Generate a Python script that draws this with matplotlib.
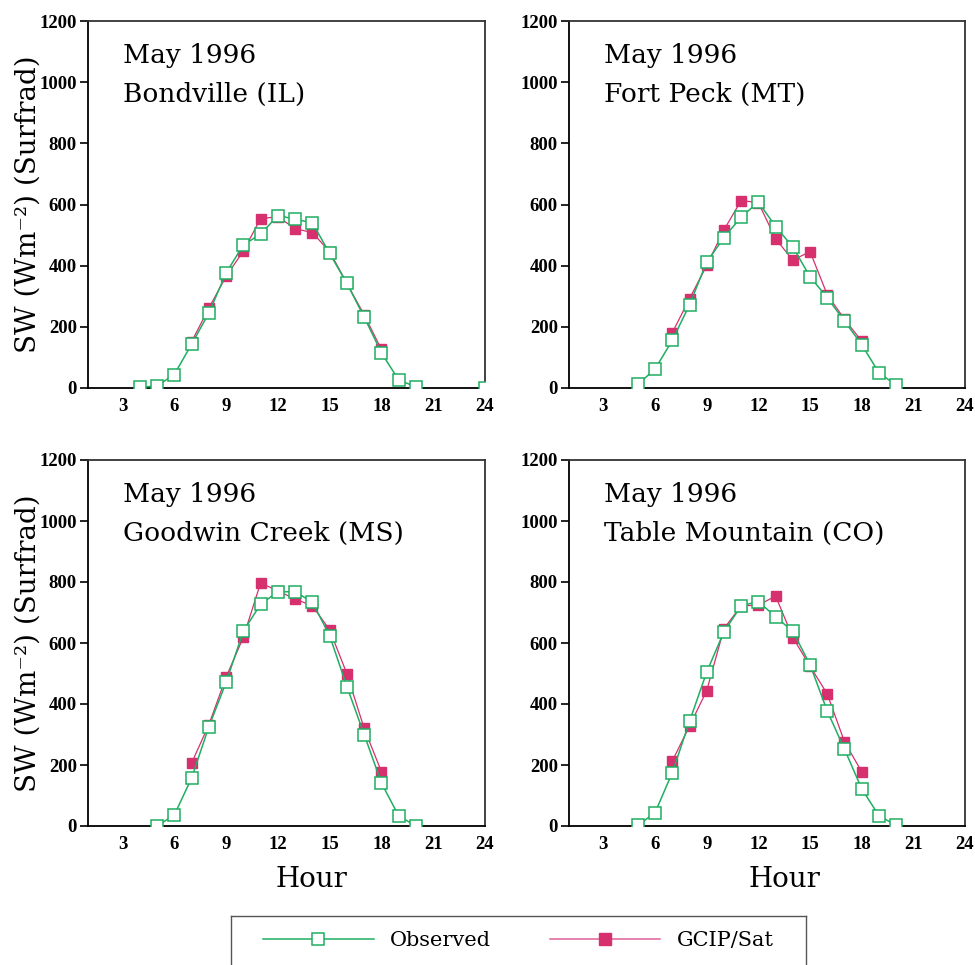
import numpy as np
import matplotlib.pyplot as plt
from matplotlib.lines import Line2D

nan = np.nan

# hours of the day
obs_hours = np.arange(4, 25)
sat_hours = np.arange(7, 19)

stations = ['Bondville (IL)', 'Fort Peck (MT)', 'Goodwin Creek (MS)', 'Table Mountain (CO)']

# Observed (Surfrad), hours 4..24
obs_bondville = [2, 7, 44, 143, 245, 376, 468, 503, 564, 552, 540, 440, 342, 232, 115, 26, 4, nan, nan, nan, 0]
obs_fortpeck = [nan, 12, 62, 156, 272, 412, 492, 559, 608, 528, 461, 364, 295, 219, 142, 50, 9, nan, nan, nan, nan]
obs_goodwin = [nan, 0, 36, 157, 325, 471, 639, 727, 768, 768, 734, 624, 457, 300, 141, 33, 0, nan, nan, nan, nan]
obs_table = [nan, 2, 44, 175, 343, 505, 637, 722, 736, 686, 638, 529, 377, 252, 122, 34, 2, nan, nan, nan, nan]

# GCIP/Sat, hours 7..18
sat_bondville = [151, 261, 365, 448, 554, 560, 521, 508, 446, 342, 239, 126]
sat_fortpeck = [181, 292, 401, 517, 613, 606, 488, 418, 446, 305, 225, 153]
sat_goodwin = [206, 332, 488, 619, 797, 771, 744, 722, 643, 499, 320, 178]
sat_table = [213, 328, 444, 647, 722, 724, 754, 618, 524, 433, 276, 178]

obs_all = [obs_bondville, obs_fortpeck, obs_goodwin, obs_table]
sat_all = [sat_bondville, sat_fortpeck, sat_goodwin, sat_table]

green = '#1fae62'
magenta = '#d6306f'
pink = '#e0609a'
title_font = 'DejaVu Serif'
tick_font = 'Liberation Serif'

fig = plt.figure(figsize=(9.75, 9.65), dpi=100)

W, H = 975.0, 965.0
# axes boxes in pixels: left, top, right, bottom
boxes = [(88, 21, 485, 388), (569, 21, 965, 388),
         (88, 460, 485, 826), (569, 460, 965, 826)]

for i, (l, t, r, b) in enumerate(boxes):
    ax = fig.add_axes([l / W, 1 - b / H, (r - l) / W, (b - t) / H])
    ax.plot(sat_hours, sat_all[i], color=magenta, lw=0.9, marker='s', ms=7.5,
            mfc=magenta, mec=magenta, mew=1.0, zorder=2)
    ax.plot(obs_hours, obs_all[i], color=green, lw=1.1, marker='s', ms=8,
            mfc='white', mec=green, mew=1.1, zorder=3)
    ax.set_xlim(1, 24)
    ax.set_ylim(0, 1200)
    ax.set_xticks(range(3, 25, 3))
    ax.set_yticks(range(0, 1201, 200))
    ax.tick_params(axis='y', direction='out', length=6, width=1.2, pad=2)
    ax.tick_params(axis='x', length=0, pad=7)
    for lab in ax.get_xticklabels() + ax.get_yticklabels():
        lab.set_fontfamily(tick_font)
        lab.set_fontweight('bold')
        lab.set_fontsize(13.5)
    for sp in ax.spines.values():
        sp.set_linewidth(1.3)
    for sp in ['right', 'top']:
        ax.spines[sp].set_color('#333333')
    ax.text(0.088, 0.886, 'May 1996', transform=ax.transAxes, fontsize=19,
            family=title_font, va='baseline', ha='left')
    ax.text(0.088, 0.779, stations[i], transform=ax.transAxes, fontsize=19,
            family=title_font, va='baseline', ha='left')

# y labels
for yc in [(21 + 388) / 2, (460 + 826) / 2]:
    fig.text(28 / W, 1 - yc / H, 'SW (Wm⁻²) (Surfrad)', rotation=90,
             fontsize=20, family=title_font, ha='center', va='center')
# x labels
for xc in [311, 784]:
    fig.text(xc / W, 1 - 887 / H, 'Hour', fontsize=20, family=title_font,
             ha='center', va='baseline')

# legend box, cut off at the bottom of the figure
lax = fig.add_axes([231 / W, -0.03, (806 - 231) / W, (965 - 916) / H + 0.03])
lax.set_xticks([])
lax.set_yticks([])
for sp in lax.spines.values():
    sp.set_color('#555555')
    sp.set_linewidth(1.0)
lax.patch.set_alpha(0)

handles = [
    Line2D([], [], color=green, lw=1.1, marker='s', ms=9, mfc='white', mec=green, mew=1.1),
    Line2D([], [], color=pink, lw=1.1, marker='s', ms=9, mfc=magenta, mec=magenta),
]
leg = fig.legend(handles, ['Observed', 'GCIP/Sat'], loc='center',
                 bbox_to_anchor=((231 + 806) / 2 / W, 1 - 941 / H), ncol=2,
                 frameon=False, handlelength=5.3, handletextpad=0.8,
                 columnspacing=2.8, prop={'family': title_font, 'size': 15})

fig.savefig('out.png', dpi=100)
